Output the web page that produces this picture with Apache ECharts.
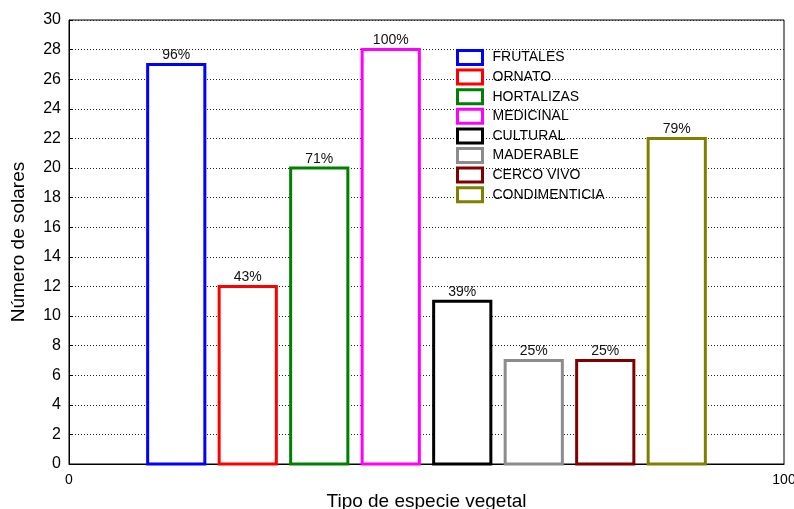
<!DOCTYPE html>
<html>
<head>
<meta charset="utf-8">
<script src="https://cdn.jsdelivr.net/npm/echarts@6/dist/echarts.min.js"></script>
<style>
  html, body { margin: 0; padding: 0; background: #fff; }
  #chart { width: 794px; height: 509px; }
</style>
</head>
<body>
<div id="chart"></div>
<script>
// datos
var categories = ['FRUTALES', 'ORNATO', 'HORTALIZAS', 'MEDICINAL', 'CULTURAL', 'MADERABLE', 'CERCO VIVO', 'CONDIMENTICIA'];
var positions = [15, 25, 35, 45, 55, 65, 75, 85];
var counts = [27, 12, 20, 28, 11, 7, 7, 22];
var percents = ['96%', '43%', '71%', '100%', '39%', '25%', '25%', '79%'];
var colors = ['#0000ff', '#ff0000', '#008000', '#ff00ff', '#000000', '#8c8c8c', '#800000', '#808000'];
var barWidthUnits = 8;

var FONT = '"Liberation Sans", Arial, sans-serif';

var chart = echarts.init(document.getElementById('chart'));

var series = categories.map(function (name, i) {
  return {
    name: name,
    type: 'custom',
    data: [[positions[i], counts[i], percents[i]]],
    renderItem: function (params, api) {
      var x = api.value(0), y = api.value(1);
      var p0 = api.coord([x - barWidthUnits / 2, y]);
      var p1 = api.coord([x + barWidthUnits / 2, 0]);
      return {
        type: 'group',
        children: [{
          type: 'rect',
          shape: { x: p0[0], y: p0[1], width: p1[0] - p0[0], height: p1[1] - p0[1] },
          style: { fill: '#fff', stroke: colors[i], lineWidth: 3 }
        }, {
          type: 'text',
          style: {
            text: api.value(2),
            x: (p0[0] + p1[0]) / 2,
            y: p0[1] - 2,
            align: 'center',
            verticalAlign: 'bottom',
            font: '14px ' + FONT,
            fill: '#111'
          }
        }]
      };
    },
    itemStyle: { color: colors[i] },
    z: 3
  };
});

var option = {
  animation: false,
  backgroundColor: '#fff',
  grid: {
    left: 69, right: 10, top: 20, bottom: 45,
    outerBoundsMode: 'none',
    containLabel: false,
    show: true, borderColor: '#000', borderWidth: 1
  },
  legend: {
    orient: 'vertical',
    left: 456,
    top: 49,
    padding: 0,
    itemWidth: 25,
    itemHeight: 14,
    itemGap: 2.6,
    textStyle: { fontFamily: FONT, fontSize: 14, color: '#000', lineHeight: 17, padding: [0, 0, 0, 5] },
    data: categories.map(function (name, i) {
      return {
        name: name,
        icon: 'rect',
        itemStyle: { color: '#fff', borderColor: colors[i], borderWidth: 3 }
      };
    }),
    selectedMode: false
  },
  xAxis: {
    type: 'value',
    min: 0,
    max: 100,
    interval: 100,
    name: 'Tipo de especie vegetal',
    nameLocation: 'middle',
    nameGap: 28,
    nameTextStyle: { fontFamily: FONT, fontSize: 19, color: '#000' },
    axisLine: { show: true, lineStyle: { color: '#000', width: 1 } },
    axisTick: { show: false },
    axisLabel: { fontFamily: FONT, fontSize: 14, color: '#000', margin: 9 },
    splitLine: { show: false }
  },
  yAxis: {
    type: 'value',
    min: 0,
    max: 30,
    interval: 2,
    name: 'Número de solares',
    nameLocation: 'middle',
    nameGap: 41,
    nameTextStyle: { fontFamily: FONT, fontSize: 19, color: '#000' },
    axisLine: { show: true, lineStyle: { color: '#000', width: 1 } },
    axisTick: { show: true, inside: true, length: 4, lineStyle: { color: '#000' } },
    axisLabel: { fontFamily: FONT, fontSize: 16, color: '#000', margin: 8 },
    splitLine: { show: true, lineStyle: { color: '#222', type: [1, 2], width: 1 } }
  },
  series: series
};

chart.setOption(option);
</script>
</body>
</html>
